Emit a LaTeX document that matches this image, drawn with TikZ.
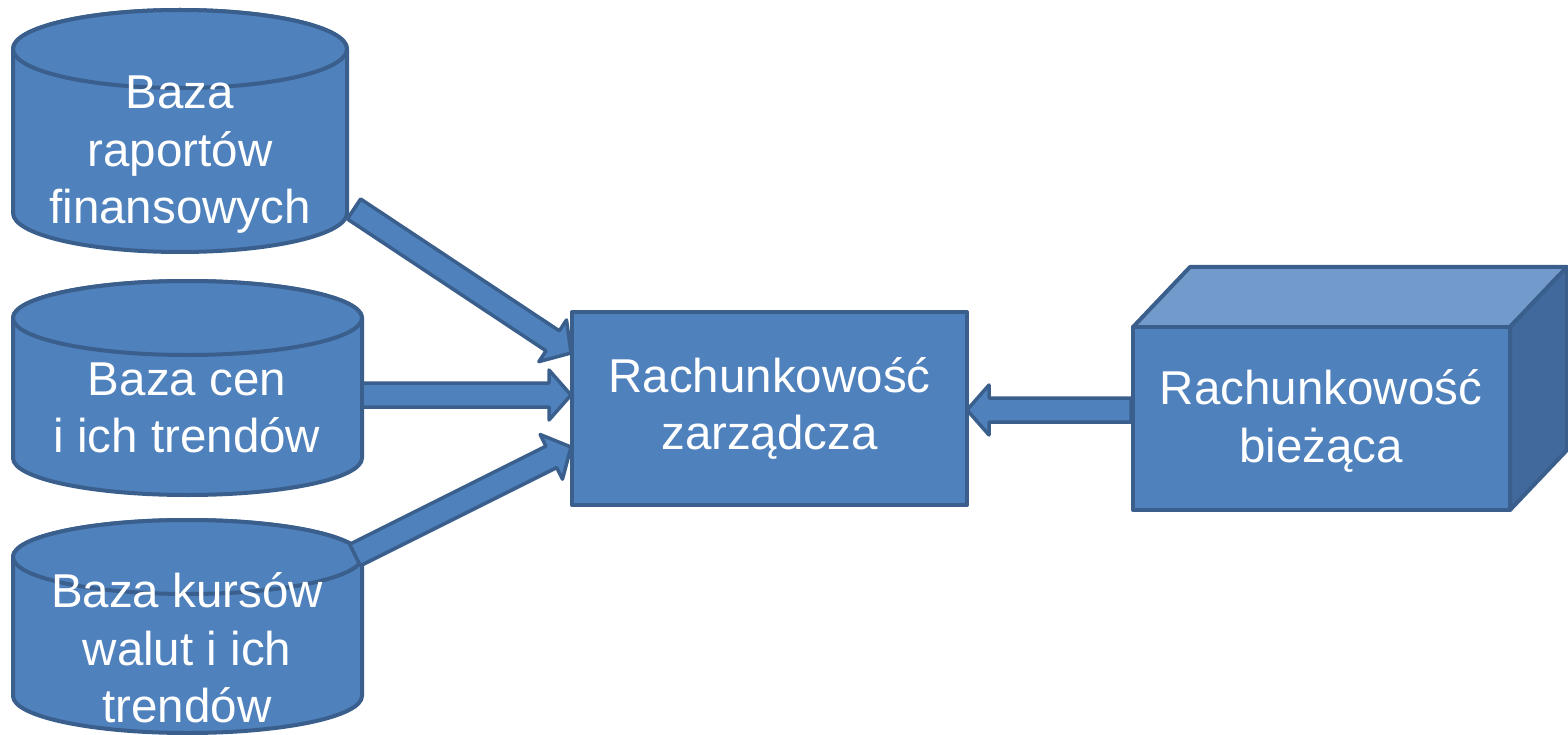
\documentclass[tikz,border=0pt]{standalone}
\usepackage{fontspec}
\setmainfont{Liberation Sans}
\usetikzlibrary{calc}
\definecolor{fillb}{HTML}{4F81BD}
\definecolor{lineb}{HTML}{3A5F8C}
\definecolor{topb}{HTML}{729ACA}
\definecolor{sideb}{HTML}{41699C}
\tikzset{
  shapebase/.style={fill=fillb, draw=lineb, line width=4pt, line join=round},
  lbl/.style={text=white, font=\fontsize{47.5}{57.5}\selectfont, align=center, inner sep=0pt},
  barrow/.style={shapebase, line width=3.5pt},
}
\newcommand\blockarrow[2]{%
  \path let \p1=($(#2)-(#1)$) in \pgfextra{%
    \pgfmathsetmacro\arrang{atan2(\y1,\x1)}%
    \pgfmathsetmacro\arrlen{veclen(\x1,\y1)}%
    \xdef\myarrang{\arrang}\xdef\myarrlen{\arrlen}};
  \begin{scope}[shift={(#1)}, rotate=\myarrang]
    \draw[barrow] (0,-12) -- ({\myarrlen-22},-12) -- ({\myarrlen-22},-25) -- (\myarrlen,0)
      -- ({\myarrlen-22},25) -- ({\myarrlen-22},12) -- (0,12) -- cycle;
  \end{scope}}
\newcommand\cyl[5]{% x1, x2, ytop center, ybottom center, ry
  \pgfmathsetmacro\crx{(#2-#1)/2}%
  \draw[shapebase] (#1,#3) -- (#1,#4) arc[start angle=180, end angle=360, x radius=\crx, y radius=#5]
    -- (#2,#3) arc[start angle=0, end angle=180, x radius=\crx, y radius=#5] -- cycle;
  \draw[shapebase] ({(#1+#2)/2},#3) ellipse[x radius=\crx, y radius=#5];}
\begin{document}
\begin{tikzpicture}[x=1pt, y=1pt]
  \useasboundingbox (0,0) rectangle (1568,-735);
  % cylinders
  \cyl{13}{347}{-49}{-213}{39}
  \cyl{13}{362}{-318}{-458}{37}
  \cyl{13}{362}{-557}{-696}{37}
  \node[lbl] (c1) at (180,-155) {Baza\\raportów\\finansowych};
  \node[lbl] (c2) at (187,-408) {Baza cen\\i ich trendów};
  \node[lbl] (c3) at (187,-648) {Baza kursów\\walut i ich\\trendów};
  % central box
  \node[shapebase, lbl, minimum width=395pt, minimum height=193pt] (rz) at (769.5,-408.5) {Rachunkowość\\zarządcza};
  % cube
  \draw[shapebase, fill=topb] (1133,-327) -- (1190,-267) -- (1567,-267) -- (1510,-327) -- cycle;
  \draw[shapebase, fill=sideb] (1510,-327) -- (1567,-267) -- (1567,-450) -- (1510,-510) -- cycle;
  \node[shapebase, minimum width=377pt, minimum height=183pt, inner sep=0pt] (rb) at (1321.5,-418.5) {};
  \node[lbl] (rbt) at (1321,-421) {Rachunkowość\\bieżąca};
  % arrows
  \coordinate (a1s) at (354,-209);
  \coordinate (a1e) at (571,-353);
  \coordinate (a2s) at (362,-395);
  \coordinate (a2e) at (571,-395);
  \coordinate (a3s) at (355,-555);
  \coordinate (a3e) at (571,-447);
  \coordinate (a4s) at (1131,-410);
  \coordinate (a4e) at (967,-410);
  \blockarrow{a1s}{a1e}
  \blockarrow{a2s}{a2e}
  \blockarrow{a3s}{a3e}
  \blockarrow{a4s}{a4e}
\end{tikzpicture}
\end{document}
